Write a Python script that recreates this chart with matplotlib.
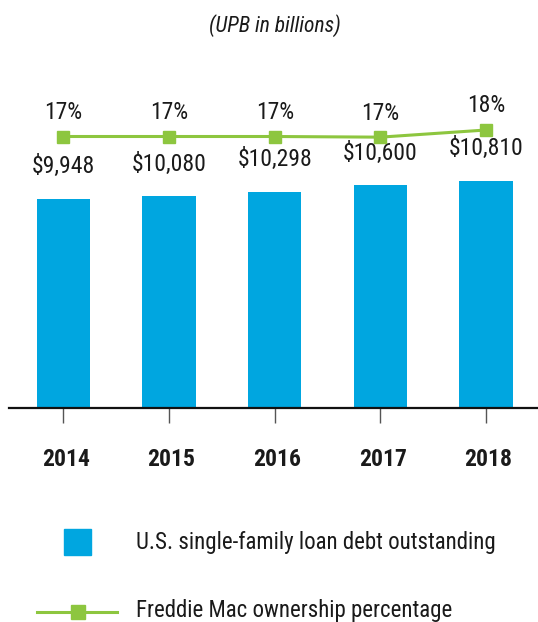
import matplotlib
matplotlib.use("Agg")
import matplotlib.pyplot as plt
import matplotlib.transforms as mtransforms
from matplotlib import font_manager
from matplotlib.lines import Line2D
from matplotlib.patches import Rectangle

years = ["2014", "2015", "2016", "2017", "2018"]
debt = [9948, 10080, 10298, 10600, 10810]
pct = [17.0, 17.0, 17.0, 16.9, 18.0]
title = "(UPB in billions)"
bar_label = "U.S. single-family loan debt outstanding"
line_label = "Freddie Mac ownership percentage"

names = {f.name for f in font_manager.fontManager.ttflist}
FONT = "DejaVu Sans"
for cand in ["Roboto Condensed", "Archivo Narrow", "PT Sans Narrow", "Liberation Sans Narrow",
             "Fira Sans Condensed", "IBM Plex Sans Condensed", "Sofia Sans Condensed",
             "Barlow Condensed"]:
    if cand in names:
        FONT = cand
        break
plt.rcParams["font.family"] = [FONT, "DejaVu Sans"]

BLUE = "#00A6E0"
GREEN = "#8DC63F"
TXT = "#1A1A1A"

W, H = 538, 622
fig = plt.figure(figsize=(W / 100, H / 100), dpi=100)

def px(x0, y0, x1, y1):
    return [x0 / W, 1 - y1 / H, (x1 - x0) / W, (y1 - y0) / H]

BASE = 407.5
ax = fig.add_axes(px(9, 60, 538, BASE))
xs = list(range(len(years)))
ax.bar(xs, debt, width=0.505, color=BLUE, zorder=2)
ax.set_xlim(-0.514, 4.491)
ax.set_ylim(0, (BASE - 60) * 47.7)
for s in ["top", "right", "left"]:
    ax.spines[s].set_visible(False)
ax.spines["bottom"].set_linewidth(1.6)
ax.spines["bottom"].set_color("#111111")
ax.set_yticks([])
ax.set_xticks(xs)
ax.set_xticklabels(years, fontsize=17, fontweight="bold", color=TXT)
ax.tick_params(axis="x", length=10.5, width=1, color="#555555", pad=19)
shift = mtransforms.ScaledTranslation(2.5 / 100, 0, fig.dpi_scale_trans)
for lab in ax.get_xticklabels():
    lab.set_transform(lab.get_transform() + shift)
ax.patch.set_visible(False)

for x, v in zip(xs, debt):
    ax.annotate(f"${v:,}", (x, v), xytext=(0, 32), textcoords="offset pixels",
                ha="center", va="center", fontsize=17, color=TXT)

ax2 = ax.twinx()
ax2.set_ylim(17 - (BASE - 136.5) / 6.5, 17 + 76.5 / 6.5)
ax2.axis("off")
ax2.plot(xs, pct, color=GREEN, lw=2.2, marker="s", ms=9.2, mec=GREEN, mfc=GREEN, zorder=3)
for x, v in zip(xs, pct):
    ax2.annotate(f"{round(v):.0f}%", (x, v), xytext=(0, 24), textcoords="offset pixels",
                 ha="center", va="center", fontsize=17, color=TXT)

fig.text(275 / W, 1 - 26 / H, title, ha="center", va="center", fontsize=15.5,
         style="italic", color=TXT)

# legend
fig.patches.append(Rectangle((64.3 / W, 1 - 555.3 / H), 26.7 / W, 26.3 / H,
                             transform=fig.transFigure, color=BLUE))
fig.text(136 / W, 1 - 543 / H, bar_label, ha="left", va="center", fontsize=16.5, color=TXT)
fig.lines.append(Line2D([37.3 / W, 117.3 / W], [1 - 611.5 / H, 1 - 611.5 / H],
                        transform=fig.transFigure, color=GREEN, lw=2.2))
fig.lines.append(Line2D([77.7 / W], [1 - 611.5 / H], transform=fig.transFigure,
                        marker="s", ms=9.4, color=GREEN))
fig.text(136 / W, 1 - 610 / H, line_label, ha="left", va="center", fontsize=16.5, color=TXT)

fig.savefig("out.png", dpi=100)
